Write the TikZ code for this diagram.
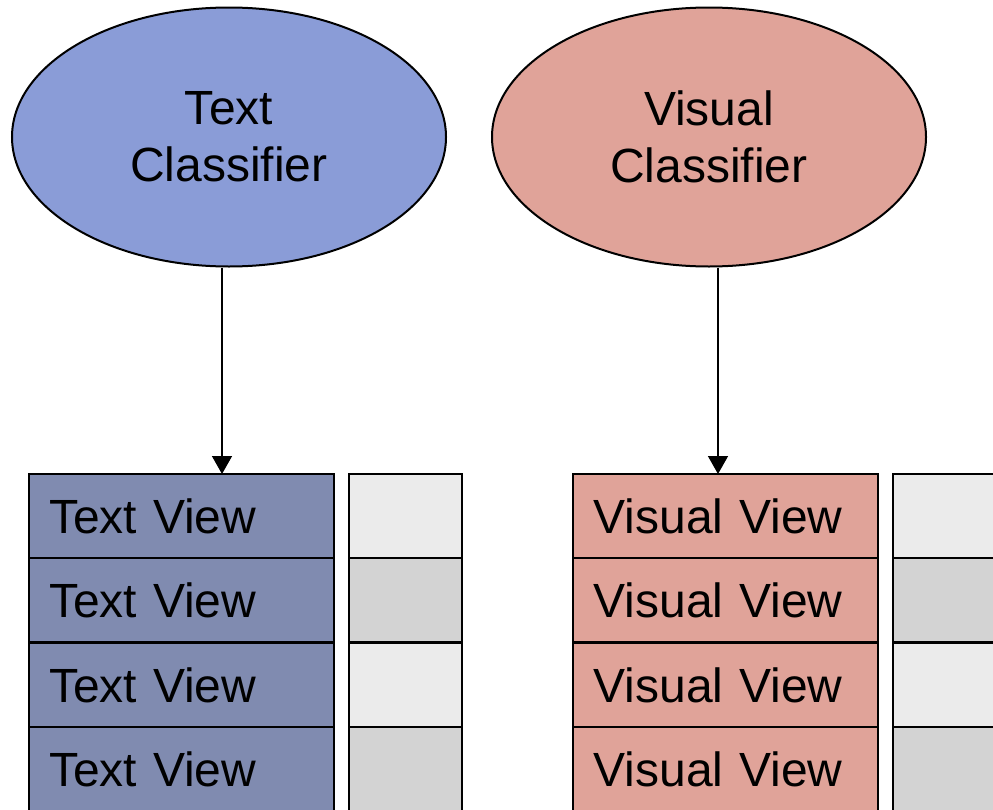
\documentclass[tikz,border=0pt]{standalone}
\usepackage{fontspec}
\setmainfont{Liberation Sans}
\usetikzlibrary{shapes.geometric,arrows.meta}
\definecolor{ellblue}{HTML}{8A9CD7}
\definecolor{ellpink}{HTML}{E0A399}
\definecolor{rowblue}{HTML}{808BB0}
\definecolor{rowpink}{HTML}{E0A399}
\definecolor{lgray}{HTML}{EBEBEB}
\definecolor{dgray}{HTML}{D3D3D3}
\begin{document}
\begin{tikzpicture}[x=1pt,y=-1pt,
  cls/.style={ellipse,draw=black,line width=2pt,minimum width=434pt,minimum height=259pt,inner sep=0pt,align=center,font=\fontsize{48}{57}\selectfont},
  row/.style={rectangle,draw=black,line width=2pt,minimum width=305pt,minimum height=84pt,text width=264pt,inner xsep=20.5pt,inner ysep=0pt,align=left,font=\fontsize{48}{50}\selectfont},
  cell/.style={rectangle,draw=black,line width=2pt,minimum width=113pt,minimum height=84pt,inner sep=0pt},
  conn/.style={line width=1.5pt,-{Triangle[length=18pt,width=20pt]}}]
\useasboundingbox (0,0) rectangle (993,809);
\node[cls,fill=ellblue] (tc) at (229,137) {Text\\Classifier};
\node[cls,fill=ellpink] (vc) at (709,137) {Visual\\Classifier};
% left column
\node[row,fill=rowblue] (t1) at (181,516) {Text View};
\node[row,fill=rowblue] (t2) at (181,600) {Text View};
\node[row,fill=rowblue] (t3) at (181,685) {Text View};
\node[row,fill=rowblue] (t4) at (181,769) {Text View};
\node[cell,fill=lgray] (g1) at (405.5,516) {};
\node[cell,fill=dgray] (g2) at (405.5,600) {};
\node[cell,fill=lgray] (g3) at (405.5,685) {};
\node[cell,fill=dgray] (g4) at (405.5,769) {};
% right column
\node[row,fill=rowpink] (v1) at (725.5,516) {Visual View};
\node[row,fill=rowpink] (v2) at (725.5,600) {Visual View};
\node[row,fill=rowpink] (v3) at (725.5,685) {Visual View};
\node[row,fill=rowpink] (v4) at (725.5,769) {Visual View};
\node[cell,fill=lgray] (h1) at (949.5,516) {};
\node[cell,fill=dgray] (h2) at (949.5,600) {};
\node[cell,fill=lgray] (h3) at (949.5,685) {};
\node[cell,fill=dgray] (h4) at (949.5,769) {};
% connectors
\coordinate (a1) at (222,474);
\coordinate (a2) at (718,474);
\draw[conn] (tc.south -| a1) -- (a1);
\draw[conn] (vc.south -| a2) -- (a2);
\end{tikzpicture}
\end{document}
